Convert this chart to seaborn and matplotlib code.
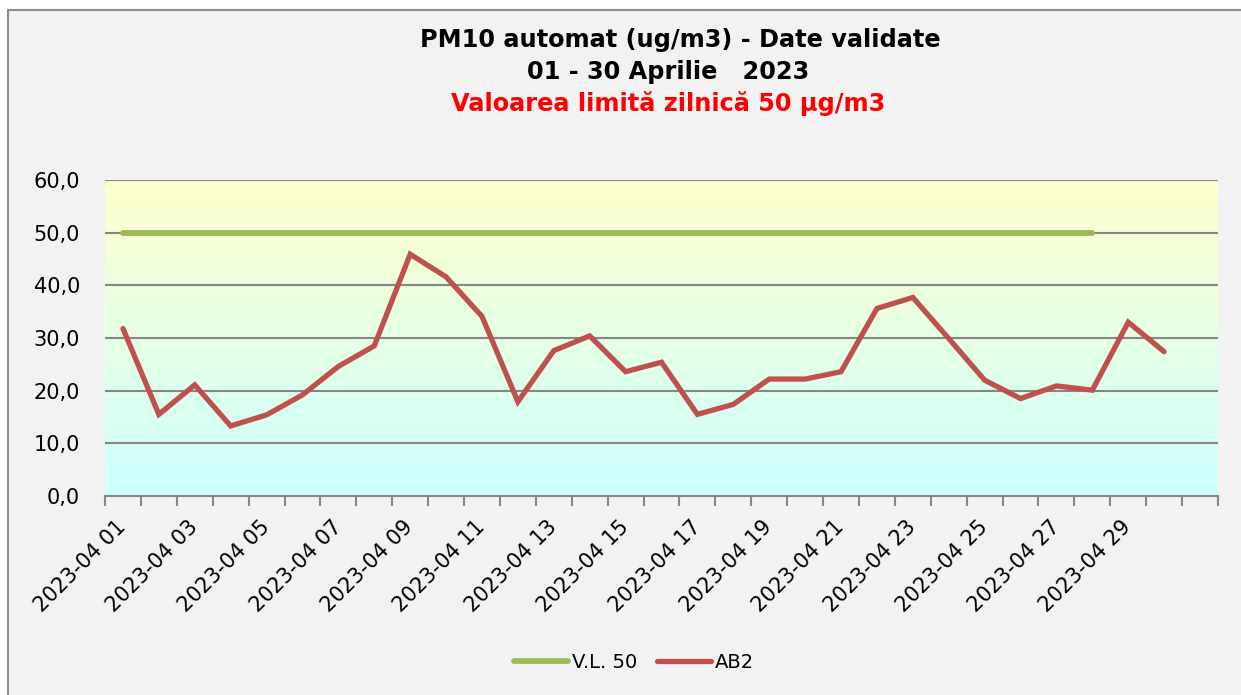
"""PM10 automat - daily values April 2023."""
import matplotlib
matplotlib.use("Agg")
import matplotlib.pyplot as plt
import matplotlib.patches as mpatches
import numpy as np
import pandas as pd
import seaborn as sns

# data
days = list(range(1, 31))
ab2 = [31.8, 15.5, 21.1, 13.3, 15.4, 19.2, 24.6, 28.5, 45.9, 41.6,
       34.1, 17.9, 27.6, 30.4, 23.6, 25.4, 15.5, 17.4, 22.2, 22.2,
       23.6, 35.6, 37.7, 29.9, 22.0, 18.5, 20.9, 20.1, 33.0, 27.4]
vl_days = list(range(1, 29))
vl = [50.0] * 28
label_days = list(range(1, 31, 2))
date_labels = [f"2023-04 {d:02d}" for d in label_days]
y_ticks = [0, 10, 20, 30, 40, 50, 60]

df_ab2 = pd.DataFrame({"day": days, "value": ab2})
df_vl = pd.DataFrame({"day": vl_days, "value": vl})

sns.set_style("white")
plt.rcParams["font.family"] = ["DejaVu Sans"]
plt.rcParams["text.color"] = "black"
plt.rcParams["xtick.color"] = "black"
plt.rcParams["ytick.color"] = "black"

W, H = 1241, 695
fig = plt.figure(figsize=(W / 100, H / 100), dpi=100)
fig.patch.set_facecolor("white")

# chart area background with frame
fig.patches.append(mpatches.Rectangle((8 / W, -0.05), 1.1, 1 - 10 / H + 0.05,
                                      transform=fig.transFigure, fc="#f2f2f2",
                                      ec="#8c8c8c", lw=1.5, zorder=-5))

ax = fig.add_axes([105 / W, 1 - 496 / H, (1218 - 105) / W, (496 - 180) / H])

# yellow -> cyan gradient in plot area
grad = np.linspace(0, 1, 256).reshape(-1, 1)
top = np.array([255, 255, 204]) / 255
bot = np.array([204, 255, 255]) / 255
img = top[None, None, :] * (1 - grad[:, :, None]) + bot[None, None, :] * grad[:, :, None]
ax.imshow(img, extent=[0.5, 31.5, 0, 60], aspect="auto", zorder=0)

for y in y_ticks[1:]:
    ax.axhline(y, color="#868686", lw=1.5, zorder=1)

sns.lineplot(data=df_vl, x="day", y="value", ax=ax, color="#9BBB59", lw=4.2,
             solid_capstyle="round", label="V.L. 50", zorder=3)
sns.lineplot(data=df_ab2, x="day", y="value", ax=ax, color="#C0504D", lw=3.8,
             solid_capstyle="round", solid_joinstyle="miter", label="AB2", zorder=4)

ax.set_xlim(0.5, 31.5)
ax.set_ylim(0, 60)
ax.set_xlabel("")
ax.set_ylabel("")

for s in ["top", "right", "left"]:
    ax.spines[s].set_visible(False)
ax.spines["bottom"].set_color("#868686")
ax.spines["bottom"].set_linewidth(1.5)
ax.spines["bottom"].set_zorder(2)

ax.set_yticks(y_ticks, labels=[f"{v:.1f}".replace(".", ",") for v in y_ticks])
ax.tick_params(axis="y", length=0, pad=18, labelsize=15)

ax.set_xticks(np.arange(0.5, 32, 1), labels=[])
ax.tick_params(axis="x", which="major", bottom=True, length=7, width=1.5,
               color="#868686", direction="out")
ax.set_xticks(label_days, labels=date_labels, minor=True)
ax.tick_params(axis="x", which="minor", bottom=True, length=0, pad=20, labelsize=15)
for lab in ax.get_xticklabels(minor=True):
    lab.set_rotation(45)
    lab.set_ha("right")
    lab.set_va("center")
    lab.set_rotation_mode("anchor")

ax.get_legend().remove()
handles, labels = ax.get_legend_handles_labels()
fig.legend(handles, labels, loc="center", bbox_to_anchor=(634 / W, 1 - 662 / H),
           ncol=2, frameon=False, fontsize=14, handlelength=2.8,
           handletextpad=0.2, columnspacing=1.0)

# titles
fig.text(680 / W, 1 - 40 / H, "PM10 automat (ug/m3) - Date validate",
         ha="center", va="center", fontsize=17.3, fontweight="bold")
fig.text(668 / W, 1 - 72 / H, "01 - 30 Aprilie   2023",
         ha="center", va="center", fontsize=17.3, fontweight="bold")
fig.text(668 / W, 1 - 104 / H, "Valoarea limită zilnică 50 µg/m3",
         ha="center", va="center", fontsize=17.3, fontweight="bold", color="red")

plt.savefig("out.png", dpi=100)
plt.close()
